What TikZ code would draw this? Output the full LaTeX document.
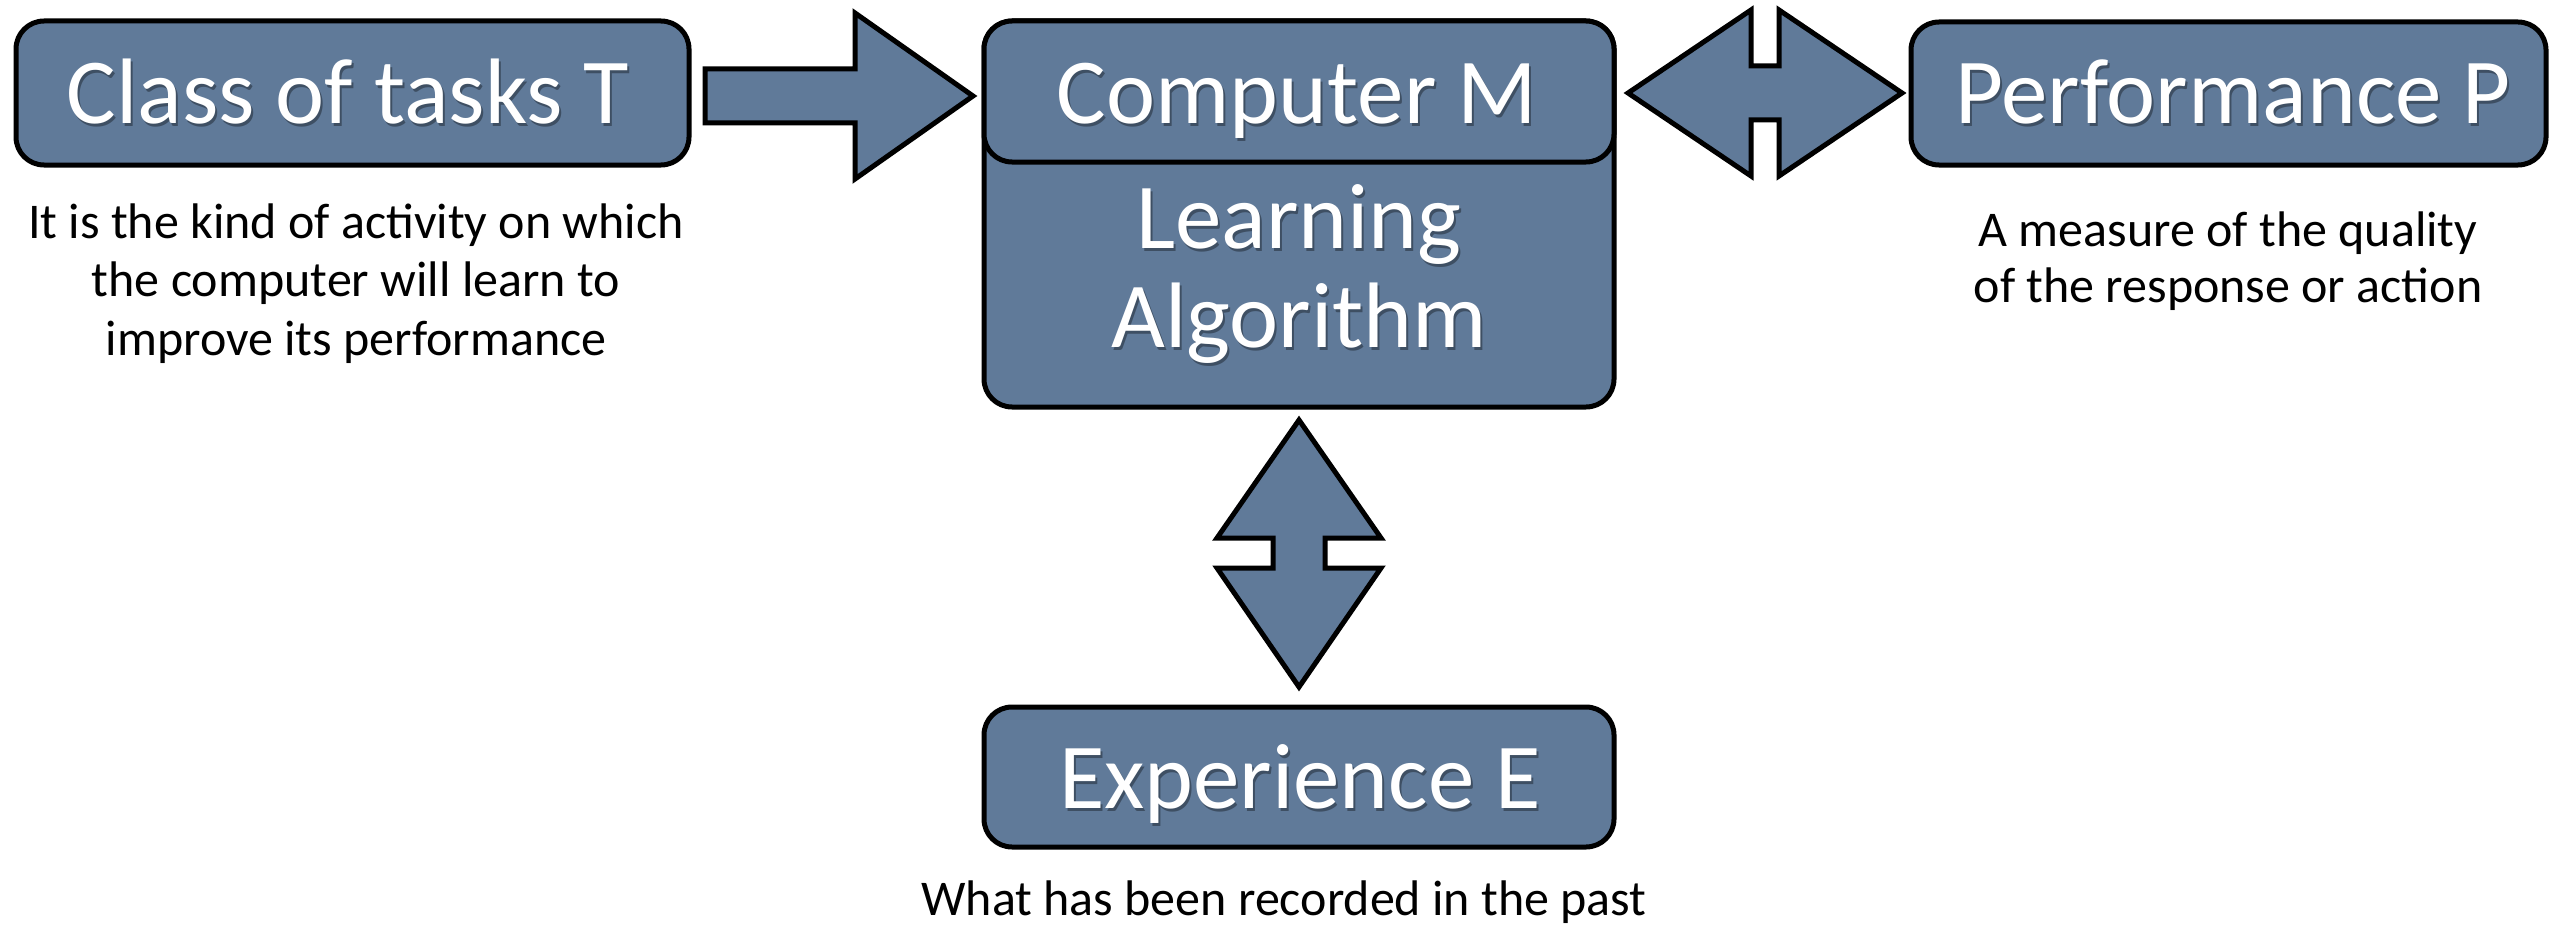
\documentclass[tikz,border=0pt]{standalone}
\usepackage{fontspec}
\setmainfont{Carlito}
\usetikzlibrary{calc}
\definecolor{boxfill}{RGB}{96,122,153}
\begin{document}
\begin{tikzpicture}[x=1pt,y=-1pt,
  box/.style={draw=black, line width=5pt, fill=boxfill, rounded corners=28pt, inner sep=0pt},
  titletext/.style={text=white, font=\fontsize{93}{100}\selectfont, inner sep=0pt, anchor=base},
  shadowtext/.style={text=black, opacity=.35, font=\fontsize{93}{100}\selectfont, inner sep=0pt, anchor=base},
  captext/.style={text=black, font=\fontsize{50}{60}\selectfont, inner sep=0pt, anchor=base},
  blockarrow/.style={draw=black, line width=5pt, fill=boxfill, line join=miter, miter limit=20}]
\useasboundingbox (0,0) rectangle (2566,931);

% boxes
\node[box, minimum width=673pt, minimum height=144pt] (task) at (352.5,93) {};
\node[box, minimum width=630pt, minimum height=386pt] (alg) at (1299,214) {};
\node[box, minimum width=630pt, minimum height=141pt] (comp) at (1299,91.5) {};
\node[box, minimum width=635pt, minimum height=143pt] (perf) at (2228.5,93.5) {};
\node[box, minimum width=630pt, minimum height=140pt] (exp) at (1299,777) {};

% block arrows
\draw[blockarrow] (705,69) -- (855,69) -- (855,13) -- (973,96) -- (855,179) -- (855,123) -- (705,123) -- cycle;
\draw[blockarrow] (1628,93) -- (1751,10) -- (1751,66) -- (1779,66) -- (1779,10) -- (1902,93)
  -- (1779,176) -- (1779,120) -- (1751,120) -- (1751,176) -- cycle;
\draw[blockarrow] (1299,420) -- (1381,538) -- (1325,538) -- (1325,568) -- (1381,568) -- (1299,687)
  -- (1217,568) -- (1273,568) -- (1273,538) -- (1217,538) -- cycle;

% title texts with shadows
\node[shadowtext] (taskS) at (350,127) {Class of tasks T};
\node[titletext] (taskT) at (348,124) {Class of tasks T};
\node[shadowtext] (compS) at (1299,127) {Computer M};
\node[titletext] (compT) at (1297,124) {Computer M};
\node[shadowtext] (learnS) at (1301,251) {Learning};
\node[titletext] (learnT) at (1299,248) {Learning};
\node[shadowtext] (algoS) at (1301,350) {Algorithm};
\node[titletext] (algoT) at (1299,347) {Algorithm};
\node[shadowtext] (perfS) at (2235,127) {Performance P};
\node[titletext] (perfT) at (2233,124) {Performance P};
\node[shadowtext] (expS) at (1302,811) {Experience E};
\node[titletext] (expT) at (1300,808) {Experience E};

% captions
\node[captext] (c1) at (356,238) {It is the kind of activity on which};
\node[captext] (c2) at (356,296) {the computer will learn to};
\node[captext] (c3) at (356,355) {improve its performance};
\node[captext] (p1) at (2228,246) {A measure of the quality};
\node[captext] (p2) at (2228,302) {of the response or action};
\node[captext] (e1) at (1284,915) {What has been recorded in the past};
\end{tikzpicture}
\end{document}
